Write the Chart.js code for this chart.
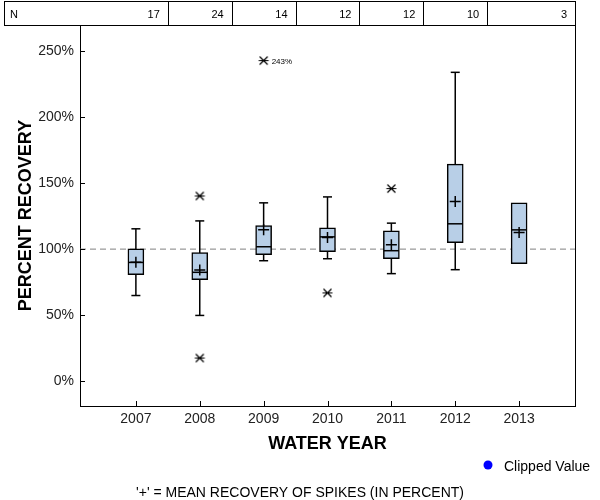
<!DOCTYPE html>
<html>
<head>
<meta charset="utf-8">
<script src="https://cdn.jsdelivr.net/npm/chart.js@4/dist/chart.umd.min.js"></script>
<style>
  html, body { margin: 0; padding: 0; background: #fff; }
  canvas { display: block; }
</style>
</head>
<body>
<canvas id="chart" width="600" height="500"></canvas>
<script>
// values
const years = [2007, 2008, 2009, 2010, 2011, 2012, 2013];
const nCounts = [17, 24, 14, 12, 12, 10, 3];
const q1 = [80.6, 76.9, 95.7, 98.0, 92.7, 104.8, 89.0];
const q3 = [100.3, 97.3, 117.9, 116.2, 113.9, 164.5, 135.1];
const medians = [89.9, 82.4, 101.8, 109.3, 98.8, 119.2, 114.6];
const means = [90.0, 84.1, 114.6, 108.8, 103.3, 136.1, 112.6];
const whiskerLow = [64.8, 49.7, 91.2, 92.7, 81.4, 84.4, null];
const whiskerHigh = [115.4, 121.4, 135.1, 139.6, 119.7, 234.1, null];
const outlierYears = [2008, 2008, 2009, 2010, 2011];
const outlierValues = [140.3, 17.4, 243, 66.8, 145.9];
const labelledOutlier = { year: 2009, value: 243, text: "243%" };
const yTicks = [0, 50, 100, 150, 200, 250];
const refLine = 100;

const FONT = "Arial, 'Liberation Sans', sans-serif";

// asterisk marker used for outliers
const star = document.createElement("canvas");
star.width = 13;
star.height = 11;
(() => {
  const c = star.getContext("2d");
  c.strokeStyle = "#000";
  c.lineWidth = 1.2;
  c.beginPath();
  c.moveTo(1.5, 5.5); c.lineTo(11.5, 5.5);
  c.moveTo(2.5, 1.5); c.lineTo(10.5, 9.5);
  c.moveTo(2.5, 9.5); c.lineTo(10.5, 1.5);
  c.stroke();
})();

// whisker stems, broken between years with null points
const stemData = [];
years.forEach((yr, i) => {
  if (whiskerLow[i] == null) return;
  stemData.push({ x: yr, y: whiskerLow[i] });
  stemData.push({ x: yr, y: whiskerHigh[i] });
  stemData.push({ x: yr, y: null });
});

const extras = {
  id: "extras",
  beforeDatasetsDraw(chart) {
    const { ctx, chartArea: a, scales: { y } } = chart;
    const py = y.getPixelForValue(refLine);
    ctx.save();
    ctx.strokeStyle = "#808080";
    ctx.lineWidth = 1;
    ctx.setLineDash([6, 4]);
    ctx.beginPath();
    ctx.moveTo(a.left, py);
    ctx.lineTo(a.right, py);
    ctx.stroke();
    ctx.restore();
  },
  afterDraw(chart) {
    const { ctx, chartArea: a, scales: { x, y } } = chart;
    ctx.save();
    ctx.strokeStyle = "#000";
    ctx.lineWidth = 1;

    // right frame line
    ctx.beginPath();
    ctx.moveTo(a.right + 0.5, a.top);
    ctx.lineTo(a.right + 0.5, a.bottom);
    ctx.stroke();

    // inward ticks
    ctx.beginPath();
    yTicks.forEach(v => {
      const p = Math.round(y.getPixelForValue(v)) + 0.5;
      ctx.moveTo(a.left, p);
      ctx.lineTo(a.left + 5, p);
    });
    years.forEach(v => {
      const p = Math.round(x.getPixelForValue(v)) + 0.5;
      ctx.moveTo(p, a.bottom);
      ctx.lineTo(p, a.bottom - 5);
    });
    ctx.stroke();

    // N table
    const top = 1.5, bot = a.top + 0.5, left = 4.5;
    ctx.strokeRect(left, top, a.right + 0.5 - left, bot - top);
    ctx.beginPath();
    years.slice(0, -1).forEach(v => {
      const p = Math.round(x.getPixelForValue(v + 0.5)) + 0.5;
      ctx.moveTo(p, top);
      ctx.lineTo(p, bot);
    });
    ctx.stroke();
    ctx.fillStyle = "#000";
    ctx.font = "11px " + FONT;
    ctx.textBaseline = "middle";
    ctx.textAlign = "left";
    ctx.fillText("N", 10, 15);
    ctx.textAlign = "right";
    years.forEach((v, i) => {
      const edge = i < years.length - 1 ? x.getPixelForValue(v + 0.5) : a.right;
      ctx.fillText(String(nCounts[i]), edge - 8, 15);
    });

    // label next to the highest outlier
    ctx.font = "8px " + FONT;
    ctx.textAlign = "left";
    ctx.fillText(labelledOutlier.text,
      x.getPixelForValue(labelledOutlier.year) + 8,
      y.getPixelForValue(labelledOutlier.value) + 1);

    // legend and footnote
    ctx.fillStyle = "#0000ff";
    ctx.beginPath();
    ctx.arc(488, 465, 4.5, 0, Math.PI * 2);
    ctx.fill();
    ctx.fillStyle = "#000";
    ctx.font = "14px " + FONT;
    ctx.fillText("Clipped Value", 504, 467);
    ctx.textAlign = "center";
    ctx.fillText("'+' = MEAN RECOVERY OF SPIKES (IN PERCENT)", 300, 493);
    ctx.restore();
  }
};

new Chart(document.getElementById("chart"), {
  type: "bar",
  data: {
    datasets: [
      {
        type: "scatter",
        label: "whiskers",
        data: stemData,
        showLine: true,
        spanGaps: false,
        borderColor: "#000",
        borderWidth: 1.5,
        pointStyle: "line",
        pointRadius: 4.5,
        pointBorderColor: "#000",
        pointBorderWidth: 1.5,
        order: 4
      },
      {
        label: "box",
        data: years.map((yr, i) => ({ x: yr, y: [q1[i], q3[i]] })),
        backgroundColor: "#b8cfe7",
        borderColor: "#000",
        borderWidth: 1.5,
        borderSkipped: false,
        barThickness: 16,
        grouped: false,
        order: 3
      },
      {
        type: "scatter",
        label: "median",
        data: years.map((yr, i) => ({ x: yr, y: medians[i] })),
        pointStyle: "line",
        pointRadius: 7.5,
        pointBorderColor: "#000",
        pointBorderWidth: 1.5,
        order: 2
      },
      {
        type: "scatter",
        label: "mean",
        data: years.map((yr, i) => ({ x: yr, y: means[i] })),
        pointStyle: "cross",
        pointRadius: 5.5,
        pointBorderColor: "#000",
        pointBorderWidth: 1.5,
        order: 1
      },
      {
        type: "scatter",
        label: "outliers",
        data: outlierYears.map((yr, i) => ({ x: yr, y: outlierValues[i] })),
        pointStyle: star,
        pointRadius: 6,
        order: 0
      }
    ]
  },
  options: {
    responsive: false,
    animation: false,
    devicePixelRatio: 1,
    layout: { padding: { top: 25, right: 25, left: 0, bottom: 0 } },
    plugins: { legend: { display: false }, tooltip: { enabled: false } },
    scales: {
      x: {
        type: "linear",
        offset: false,
        min: 2006.125,
        max: 2013.875,
        afterBuildTicks: s => { s.ticks = years.map(v => ({ value: v })); },
        afterFit: s => { s.height = 94; },
        grid: { drawOnChartArea: false, drawTicks: false },
        border: { color: "#000", width: 1 },
        ticks: {
          padding: 5,
          color: "#222",
          font: { family: FONT, size: 14 },
          maxRotation: 0,
          callback: v => String(v)
        },
        title: {
          display: true,
          text: "WATER YEAR",
          color: "#000",
          font: { family: FONT, size: 18, weight: "bold" },
          padding: { top: 0, bottom: 45 }
        }
      },
      y: {
        min: -19,
        max: 270,
        afterBuildTicks: s => { s.ticks = yTicks.map(v => ({ value: v })); },
        afterFit: s => { s.width = 80; },
        grid: { drawOnChartArea: false, drawTicks: false },
        border: { color: "#000", width: 1 },
        ticks: {
          padding: 6,
          color: "#222",
          font: { family: FONT, size: 14 },
          callback: v => v + "%"
        },
        title: {
          display: true,
          text: "PERCENT RECOVERY",
          color: "#000",
          font: { family: FONT, size: 18, weight: "bold" },
          padding: { top: 15, bottom: 0 }
        }
      }
    }
  },
  plugins: [extras]
});
</script>
</body>
</html>
